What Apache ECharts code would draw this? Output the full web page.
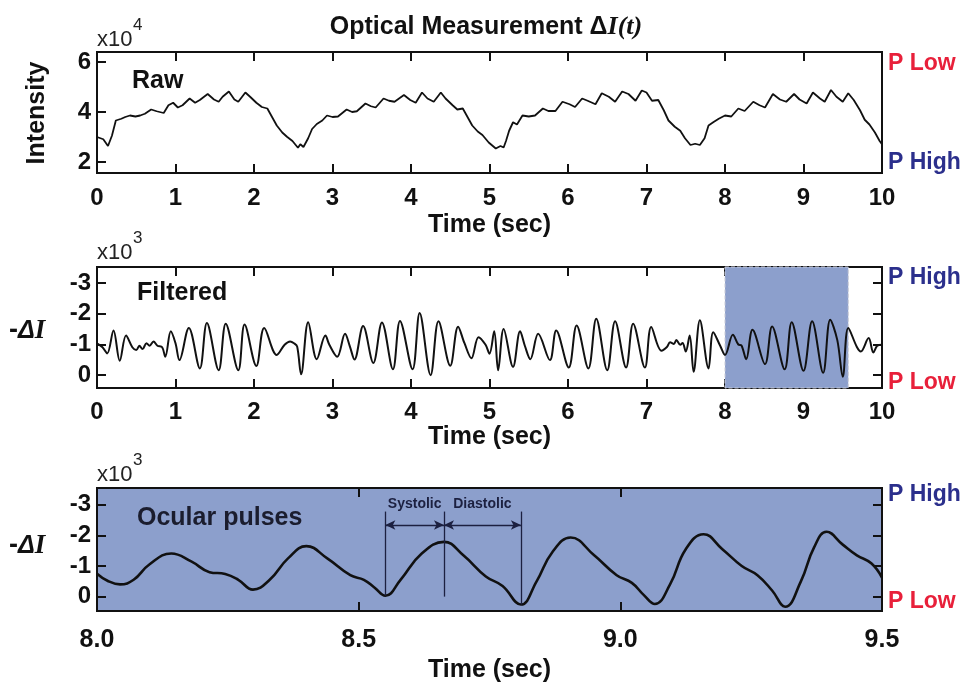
<!DOCTYPE html>
<html>
<head>
<meta charset="utf-8">
<script src="https://cdn.jsdelivr.net/npm/echarts@6/dist/echarts.min.js"></script>
<style>
html, body { margin: 0; padding: 0; background: #fff; }
#chart { width: 972px; height: 688px; }
</style>
</head>
<body>
<div id="chart"></div>
<script>
// raw intensity (x10^4)
var rawT = [0.00,0.08,0.14,0.19,0.24,0.31,0.36,0.42,0.49,0.55,0.61,0.69,0.76,0.85,0.91,0.97,1.03,1.09,1.18,1.25,1.31,1.41,1.49,1.55,1.60,1.68,1.75,1.80,1.89,1.95,
    2.03,2.10,2.17,2.23,2.29,2.36,2.42,2.49,2.56,2.59,2.63,2.69,2.74,2.80,2.87,2.93,3.00,3.07,3.18,3.25,3.31,3.42,3.49,3.55,3.65,3.72,3.79,3.91,3.99,
    4.06,4.14,4.21,4.29,4.38,4.44,4.53,4.59,4.66,4.72,4.78,4.85,4.91,4.99,5.08,5.14,5.18,5.21,5.25,5.30,5.35,5.42,5.50,5.58,5.68,5.75,5.84,5.93,
    6.02,6.09,6.18,6.25,6.35,6.43,6.52,6.60,6.69,6.77,6.86,6.94,7.00,7.07,7.15,7.22,7.28,7.36,7.43,7.49,7.56,7.62,7.68,7.74,7.79,7.85,7.92,
    8.00,8.08,8.17,8.25,8.36,8.44,8.51,8.61,8.70,8.78,8.88,8.95,9.04,9.12,9.21,9.27,9.35,9.42,9.50,9.57,9.64,9.72,9.78,9.84,9.91,9.97,10.00];
var rawV = [3.00,2.91,2.64,3.05,3.66,3.73,3.80,3.86,3.82,3.86,3.93,4.10,4.03,3.96,4.27,4.37,4.18,4.27,4.54,4.37,4.48,4.72,4.50,4.41,4.61,4.82,4.50,4.41,4.78,4.61,
    4.37,4.20,4.14,3.80,3.46,3.18,3.01,2.84,2.57,2.71,2.60,2.95,3.32,3.52,3.66,3.86,3.80,3.82,4.10,4.00,4.03,4.34,4.23,4.18,4.54,4.45,4.41,4.68,4.48,
    4.37,4.78,4.54,4.41,4.78,4.54,4.27,4.10,4.14,3.80,3.46,3.22,3.08,2.78,2.54,2.64,2.58,2.84,3.25,3.59,3.50,3.86,3.82,3.86,4.14,4.04,4.04,4.41,
    4.31,4.20,4.54,4.45,4.31,4.75,4.61,4.41,4.82,4.72,4.45,4.86,4.78,4.45,4.48,4.07,3.66,3.41,3.25,2.95,2.68,2.73,2.68,2.95,3.46,3.59,3.73,
    3.86,3.82,4.14,4.04,4.41,4.27,4.18,4.72,4.50,4.41,4.72,4.50,4.34,4.78,4.54,4.41,4.88,4.61,4.41,4.75,4.48,4.07,3.69,3.50,3.18,2.84,2.71];

// filtered -dI (x10^3)
var filtT = [0.00,0.07,0.13,0.21,0.29,0.37,0.45,0.50,0.54,0.58,0.63,0.67,0.72,0.77,0.83,0.87,0.94,1.00,1.05,1.17,1.31,1.40,1.55,1.64,1.80,1.88,
    2.03,2.13,2.29,2.39,2.46,2.51,2.55,2.60,2.69,2.80,2.91,2.96,3.06,3.16,3.22,3.28,3.39,3.52,3.63,3.77,3.86,4.02,4.11,4.25,4.35,4.50,4.60,4.68,4.77,4.86,4.95,
    5.00,5.06,5.11,5.18,5.30,5.39,5.45,5.52,5.62,5.77,5.85,6.01,6.11,6.26,6.36,6.50,6.60,6.74,6.83,6.98,7.06,7.19,7.26,7.30,7.35,7.38,7.43,7.46,7.50,7.55,7.60,
    7.68,7.79,7.85,7.94,8.00,8.10,8.17,8.21,8.27,8.35,8.51,8.60,8.76,8.85,9.00,9.11,9.25,9.34,9.43,9.50,9.57,9.68,9.73,9.83,9.89,9.94,10.00];
var filtV = [-1.04,-0.91,-0.71,-1.46,-0.47,-1.29,-0.91,-0.82,-0.96,-0.85,-1.04,-0.96,-1.10,-0.96,-0.91,-0.60,-1.43,-1.04,-0.49,-1.54,-0.22,-1.70,-0.16,-1.68,-0.16,-1.65,
    -0.30,-1.54,-0.66,-0.99,-1.10,-1.04,-0.93,-0.03,-1.73,-0.52,-1.29,-0.99,-0.60,-1.35,-0.95,-0.51,-1.60,-0.40,-1.72,-0.19,-1.77,-0.19,-2.03,0.00,-1.76,-0.31,-1.58,-1.05,-0.55,-1.24,-0.99,
    -0.70,-1.43,-0.16,-1.51,-0.27,-1.43,-0.96,-0.52,-1.35,-0.49,-1.46,-0.25,-1.62,-0.22,-1.84,-0.16,-1.76,-0.25,-1.68,-0.25,-1.57,-0.80,-0.92,-1.07,-1.02,-1.15,-0.99,-1.05,-0.77,-1.29,-0.11,
    -1.79,-0.22,-1.40,-0.95,-0.66,-1.32,-1.00,-0.97,-0.52,-1.48,-0.36,-1.59,-0.19,-1.73,-0.14,-1.76,-0.08,-1.81,-1.15,0.05,-1.54,-0.92,-0.77,-1.21,-0.74,-0.96,-0.99];

// ocular pulses 8.0 - 9.5 s (x10^3)
var pulseT = [8.000,8.020,8.044,8.070,8.100,8.142,8.180,8.215,8.245,8.270,8.298,8.330,8.365,8.400,8.440,8.484,8.510,8.530,8.551,8.580,8.620,8.663,8.700,8.743,8.775,8.810,
    8.840,8.870,8.905,8.950,8.993,9.022,9.045,9.066,9.095,9.125,9.159,9.195,9.232,9.262,9.290,9.315,9.345,9.370,9.394,9.425,9.452,9.480,9.500];
var pulseV = [-0.75,-0.52,-0.40,-0.55,-1.05,-1.41,-1.15,-0.80,-0.74,-0.55,-0.23,-0.55,-1.25,-1.65,-1.25,-0.70,-0.55,-0.30,-0.03,-0.55,-1.40,-1.79,-1.35,-0.66,-0.35,0.26,
    -0.50,-1.45,-1.93,-1.35,-0.70,-0.45,-0.05,0.24,-0.40,-1.55,-2.04,-1.55,-1.00,-0.70,-0.20,0.33,-0.50,-1.60,-2.12,-1.70,-1.35,-1.08,-0.62];

// ticks
var rawTicks = [2, 4, 6];
var dTicks = [-3, -2, -1, 0];

// highlighted window and systolic / diastolic markers
var bandStart = 8.0, bandEnd = 9.57;
var sysStart = 8.551, sysPeak = 8.663, diaEnd = 8.81;
var markTop = -2.78, arrowY = -2.34;

function zip(t, v) {
    var out = [];
    for (var i = 0; i < t.length; i++) out.push([t[i], v[i]]);
    return out;
}

var FONT = 'Liberation Sans, Arial, Helvetica, sans-serif';
var SERIF = 'Liberation Serif, DejaVu Serif, serif';
var INK = '#111';
var SHADE = '#8c9fcc';
var RED = '#e8203a';
var BLUE = '#2b2f8c';

function tick(vals) {
    var t = { inside: true, length: 9, lineStyle: { color: INK, width: 2 } };
    if (vals) t.customValues = vals;
    return t;
}

var noLine = { show: false, onZero: false };

function xBottom(grid, min, max, step, gap, size, gapName, fixed) {
    return {
        type: 'value', gridIndex: grid, position: 'bottom', min: min, max: max, interval: step,
        axisLine: noLine, splitLine: { show: false },
        axisTick: tick(),
        axisLabel: {
            color: INK, fontSize: size, fontWeight: 'bold', fontFamily: FONT, margin: gap,
            showMinLabel: true, showMaxLabel: true,
            formatter: function (v) { return fixed ? v.toFixed(1) : String(v); }
        },
        name: 'Time (sec)', nameLocation: 'middle', nameGap: gapName,
        nameTextStyle: { color: INK, fontSize: 25, fontWeight: 'bold', fontFamily: FONT }
    };
}

function xTop(grid, min, max, step) {
    return {
        type: 'value', gridIndex: grid, position: 'top', min: min, max: max, interval: step,
        axisLine: noLine, splitLine: { show: false },
        axisTick: tick(), axisLabel: { show: false }
    };
}

function yAxis(grid, min, max, ticks, inverse, right) {
    return {
        type: 'value', gridIndex: grid, min: min, max: max, inverse: inverse,
        position: right ? 'right' : 'left',
        axisLine: noLine, splitLine: { show: false },
        axisTick: tick(ticks),
        axisLabel: right ? { show: false } : {
            customValues: ticks, color: INK, fontSize: 24, fontWeight: 'bold',
            fontFamily: FONT, margin: 6
        }
    };
}

function txt(x, y, text, size, color, extra) {
    var s = {
        text: text, fill: color || INK, fontSize: size, fontWeight: 'bold', fontFamily: FONT,
        textAlign: 'left', align: 'left', textVerticalAlign: 'middle', verticalAlign: 'middle'
    };
    for (var k in extra) s[k] = extra[k];
    return { type: 'text', x: x, y: y, style: s, z: 10 };
}

var deltaRich = {
    a: { fontSize: 27, fontWeight: 'bold', fontFamily: FONT, fill: INK },
    b: { fontSize: 25, fontWeight: 'bold', fontStyle: 'italic', fontFamily: FONT, fill: INK },
    c: { fontSize: 27, fontWeight: 'bold', fontStyle: 'italic', fontFamily: SERIF, fill: INK }
};

var myChart = echarts.init(document.getElementById('chart'));
option = {
    animation: false,
    backgroundColor: '#fff',
    title: {
        text: 'Optical Measurement {d|Δ}{i|I(t)}',
        left: 'center', top: 9,
        textStyle: {
            color: INK, fontSize: 25, fontWeight: 'bold', fontFamily: FONT,
            rich: {
                d: { fontSize: 25, fontFamily: FONT, color: INK },
                i: { fontSize: 26, fontWeight: 'bold', fontStyle: 'italic', fontFamily: SERIF, color: INK }
            }
        }
    },
    grid: [
        { left: 97, right: 90, top: 52, height: 121, show: true, borderColor: INK, borderWidth: 2, outerBoundsMode: 'none' },
        { left: 97, right: 90, top: 267, height: 121, show: true, borderColor: INK, borderWidth: 2, outerBoundsMode: 'none' },
        { left: 97, right: 90, top: 488, height: 123, show: true, borderColor: INK, borderWidth: 2, backgroundColor: SHADE, outerBoundsMode: 'none' }
    ],
    xAxis: [
        xBottom(0, 0, 10, 1, 13, 24, 40, false),
        xTop(0, 0, 10, 1),
        xBottom(1, 0, 10, 1, 12, 24, 35, false),
        xTop(1, 0, 10, 1),
        xBottom(2, 8, 9.5, 0.5, 17, 25, 47, true),
        xTop(2, 8, 9.5, 0.5)
    ],
    yAxis: [
        yAxis(0, 1.56, 6.4, rawTicks, false, false),
        yAxis(1, -3.53, 0.42, dTicks, true, false),
        yAxis(1, -3.53, 0.42, dTicks, true, true),
        yAxis(2, -3.55, 0.47, dTicks, true, false),
        yAxis(2, -3.55, 0.47, dTicks, true, true)
    ],
    series: [
        {
            name: 'Raw', type: 'line', xAxisIndex: 0, yAxisIndex: 0,
            data: zip(rawT, rawV), showSymbol: false, z: 3,
            lineStyle: { color: INK, width: 1.8 }
        },
        {
            name: 'window', type: 'line', xAxisIndex: 2, yAxisIndex: 1, data: [], z: 1,
            markArea: {
                silent: true,
                itemStyle: { color: SHADE, opacity: 1, borderColor: '#c9cbd6', borderWidth: 1, borderType: 'dashed' },
                data: [[{ xAxis: bandStart }, { xAxis: bandEnd }]]
            }
        },
        {
            name: 'Filtered', type: 'line', xAxisIndex: 2, yAxisIndex: 1,
            data: zip(filtT, filtV), showSymbol: false, smooth: 0.35, z: 3,
            lineStyle: { color: INK, width: 2 }
        },
        {
            name: 'Ocular pulses', type: 'line', xAxisIndex: 4, yAxisIndex: 3,
            data: zip(pulseT, pulseV), showSymbol: false, smooth: 0.45, z: 3,
            lineStyle: { color: INK, width: 2.6 },
            markLine: {
                silent: true, symbol: ['none', 'none'],
                lineStyle: { color: '#1c2040', width: 1.3, type: 'solid' },
                label: { show: false },
                data: [
                    [{ coord: [sysStart, markTop] }, { coord: [sysStart, -0.03] }],
                    [{ coord: [sysPeak, markTop] }, { coord: [sysPeak, 0.0] }],
                    [{ coord: [diaEnd, markTop] }, { coord: [diaEnd, 0.26] }],
                    [
                        { coord: [sysStart, arrowY], symbol: 'arrow', symbolSize: [7, 10],
                          label: { show: true, position: 'middle', distance: 14, formatter: 'Systolic',
                                   color: '#1c2040', fontSize: 14, fontWeight: 'bold', fontFamily: FONT } },
                        { coord: [sysPeak, arrowY], symbol: 'arrow', symbolSize: [7, 10] }
                    ],
                    [
                        { coord: [sysPeak, arrowY], symbol: 'arrow', symbolSize: [7, 10],
                          label: { show: true, position: 'middle', distance: 14, formatter: 'Diastolic',
                                   color: '#1c2040', fontSize: 14, fontWeight: 'bold', fontFamily: FONT } },
                        { coord: [diaEnd, arrowY], symbol: 'arrow', symbolSize: [7, 10] }
                    ]
                ]
            }
        }
    ],
    graphic: [
        // exponent markers
        txt(97, 40, 'x10', 22, '#222', { fontWeight: 'normal' }),
        txt(133, 25, '4', 17, '#222', { fontWeight: 'normal' }),
        txt(97, 253, 'x10', 22, '#222', { fontWeight: 'normal' }),
        txt(133, 238, '3', 17, '#222', { fontWeight: 'normal' }),
        txt(97, 475, 'x10', 22, '#222', { fontWeight: 'normal' }),
        txt(133, 460, '3', 17, '#222', { fontWeight: 'normal' }),
        // panel labels
        txt(132, 81, 'Raw', 25),
        txt(137, 293, 'Filtered', 25),
        txt(137, 518, 'Ocular pulses', 25, '#1b1d2e'),
        // y names
        { type: 'text', x: 37, y: 113, rotation: Math.PI / 2, z: 10,
          style: { text: 'Intensity', fill: INK, fontSize: 25, fontWeight: 'bold', fontFamily: FONT,
                   textAlign: 'center', align: 'center', textVerticalAlign: 'middle', verticalAlign: 'middle' } },
        txt(9, 331, '{a|-}{b|Δ}{c|I}', 25, INK, { rich: deltaRich }),
        txt(9, 546, '{a|-}{b|Δ}{c|I}', 25, INK, { rich: deltaRich }),
        // pressure markers
        txt(888, 64, 'P Low', 23, RED),
        txt(888, 163, 'P High', 23, BLUE),
        txt(888, 278, 'P High', 23, BLUE),
        txt(888, 383, 'P Low', 23, RED),
        txt(888, 495, 'P High', 23, BLUE),
        txt(888, 602, 'P Low', 23, RED)
    ]
};
myChart.setOption(option);
</script>
</body>
</html>
